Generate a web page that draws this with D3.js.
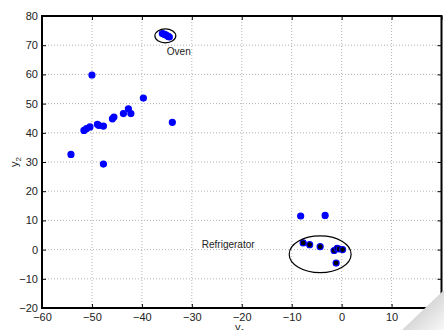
<!DOCTYPE html>
<html>
<head>
    <meta charset="utf-8" />
    <title></title>
    <script src="https://cdn.jsdelivr.net/npm/d3@7/dist/d3.min.js"></script>
    <style>
        body { margin: 0; background: #fff; }
        svg text { font-family: "Liberation Sans", Arial, sans-serif; fill: #222; }
        .tick line { stroke: #000; }
        .tick text { font-size: 11px; }
    </style>
</head>
<body>
    <svg width="444" height="330"></svg>
    <script>
        // cluster of generic points (y1, y2)
        var otherX = [-54.2, -50.0, -47.7, -51.6, -51.1, -50.4, -48.9, -48.6, -47.7, -45.9, -45.6, -43.7, -42.7, -42.2, -39.7, -33.9, -8.2, -3.3];
        var otherY = [32.6, 59.8, 29.3, 40.8, 41.4, 42.0, 42.9, 42.5, 42.3, 44.8, 45.4, 46.6, 48.2, 46.6, 51.9, 43.6, 11.5, 11.7];
        // oven cluster
        var ovenX = [-35.9, -35.6, -35.3, -35.0, -34.7, -34.5];
        var ovenY = [74.0, 73.8, 73.6, 73.3, 73.0, 72.8];
        // refrigerator cluster
        var fridgeX = [-7.7, -6.4, -4.3, -1.5, -0.9, -0.5, 0.2, -1.1];
        var fridgeY = [2.3, 1.7, 1.0, -0.3, 0.4, 0.2, 0.0, -4.6];
        // ellipses: cx, cy, rx, ry in data units
        var ellipses = [
            { name: "Oven", cx: -35.3, cy: 73.2, rx: 2.1, ry: 2.4, lx: -35.0, ly: 66.6 },
            { name: "Refrigerator", cx: -4.3, cy: -1.6, rx: 6.2, ry: 6.3, lx: -28.0, ly: 0.6 }
        ];
        var xTicks = [-60, -50, -40, -30, -20, -10, 0, 10, 20];
        var yTicks = [-20, -10, 0, 10, 20, 30, 40, 50, 60, 70, 80];

        var svg = d3.select('svg');
        var pLeft = 42, pRight = 441.5, pTop = 16, pBottom = 308;

        var x = d3.scaleLinear().domain([-60, 20]).range([pLeft, pRight]);
        var y = d3.scaleLinear().domain([-20, 80]).range([pBottom, pTop]);

        // grid
        var grid = svg.append('g');
        grid.selectAll('.gx').data(xTicks.slice(1, -1)).enter().append('line')
            .attr('x1', function (d) { return x(d); }).attr('x2', function (d) { return x(d); })
            .attr('y1', pTop).attr('y2', pBottom)
            .attr('stroke', '#b4b4b4').attr('stroke-dasharray', '1,2');
        grid.selectAll('.gy').data(yTicks.slice(1, -1)).enter().append('line')
            .attr('y1', function (d) { return y(d); }).attr('y2', function (d) { return y(d); })
            .attr('x1', pLeft).attr('x2', pRight)
            .attr('stroke', '#b4b4b4').attr('stroke-dasharray', '1,2');

        // axes, ticks point inward
        svg.append('g').attr('transform', 'translate(0,' + pBottom + ')')
            .call(d3.axisBottom(x).tickValues(xTicks).tickSize(-4).tickPadding(5));
        svg.append('g').attr('transform', 'translate(0,' + pTop + ')')
            .call(d3.axisTop(x).tickValues(xTicks).tickSize(-4).tickFormat(''));
        svg.append('g').attr('transform', 'translate(' + pLeft + ',0)')
            .call(d3.axisLeft(y).tickValues(yTicks).tickSize(-4).tickPadding(4));
        svg.append('g').attr('transform', 'translate(' + pRight + ',0)')
            .call(d3.axisRight(y).tickValues(yTicks).tickSize(-4).tickFormat(''));
        svg.selectAll('.domain').remove();
        svg.selectAll('.tick text').attr('fill', '#222');

        svg.append('rect')
            .attr('x', pLeft).attr('y', pTop)
            .attr('width', pRight - pLeft).attr('height', pBottom - pTop)
            .attr('fill', 'none').attr('stroke', '#000').attr('stroke-width', 2);

        // points
        function dots(xs, ys, fill) {
            svg.append('g').selectAll('circle').data(xs).enter().append('circle')
                .attr('cx', function (d) { return x(d); })
                .attr('cy', function (d, i) { return y(ys[i]); })
                .attr('r', 3.0)
                .attr('fill', fill)
                .attr('stroke', '#0000ff')
                .attr('stroke-width', 1.2);
        }
        dots(otherX, otherY, '#0000ff');
        dots(ovenX, ovenY, '#0000ff');
        dots(fridgeX, fridgeY, '#000');

        // ellipses + labels
        svg.append('g').selectAll('ellipse').data(ellipses).enter().append('ellipse')
            .attr('cx', function (d) { return x(d.cx); })
            .attr('cy', function (d) { return y(d.cy); })
            .attr('rx', function (d) { return x(d.cx + d.rx) - x(d.cx); })
            .attr('ry', function (d) { return y(d.cy) - y(d.cy + d.ry); })
            .attr('fill', 'none').attr('stroke', '#000').attr('stroke-width', 1.2);
        svg.append('g').selectAll('text').data(ellipses).enter().append('text')
            .attr('x', function (d) { return x(d.lx); })
            .attr('y', function (d) { return y(d.ly); })
            .attr('font-size', 10)
            .text(function (d) { return d.name; });

        // axis labels
        var xl = svg.append('text').attr('x', 235).attr('y', 331).attr('font-size', 11);
        xl.append('tspan').text('y');
        xl.append('tspan').attr('dy', 3).attr('font-size', 8).text('1');
        var yl = svg.append('text').attr('transform', 'translate(18,' + ((pTop + pBottom) / 2 + 5) + ') rotate(-90)')
            .attr('font-size', 11);
        yl.append('tspan').text('y');
        yl.append('tspan').attr('dy', 3).attr('font-size', 8).text('2');

        // page-curl shadow in the corner
        var defs = svg.append('defs');
        var grad = defs.append('linearGradient').attr('id', 'curl')
            .attr('x1', '0%').attr('y1', '0%').attr('x2', '100%').attr('y2', '100%');
        grad.append('stop').attr('offset', '40%').attr('stop-color', '#d2d2d2');
        grad.append('stop').attr('offset', '100%').attr('stop-color', '#f8f8f8');
        svg.append('path')
            .attr('d', 'M402,330 L444,290 L444,330 Z')
            .attr('fill', 'url(#curl)');
    </script>
</body>
</html>
